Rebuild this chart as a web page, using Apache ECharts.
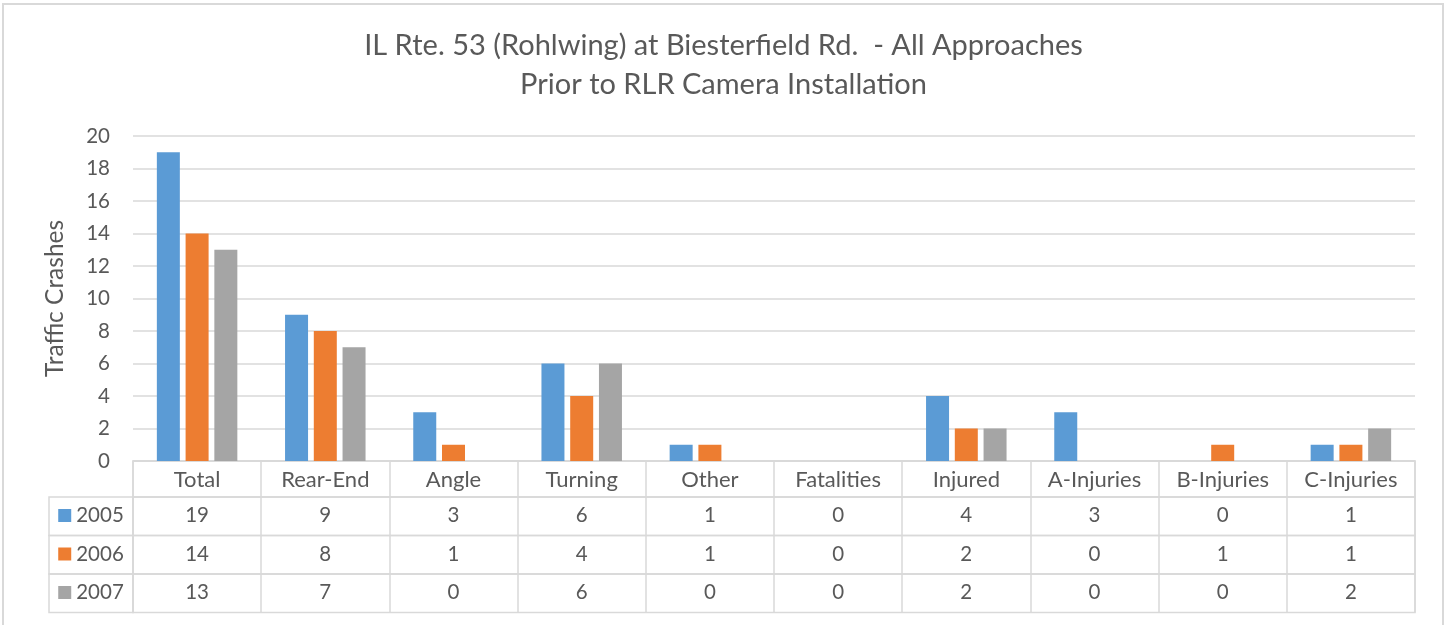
<!DOCTYPE html>
<html>
<head>
    <meta charset="utf-8">
    <title>ECharts</title>
    <style>
        html, body { margin: 0; padding: 0; background: #fff; }
    </style>
</head>
<body>
<div id="main" style="width:1447px;height:625px;"></div>
<script src="https://cdn.jsdelivr.net/npm/echarts@6/dist/echarts.min.js" type="text/javascript"></script>
<script type="text/javascript">

var categories = ['Total', 'Rear-End', 'Angle', 'Turning', 'Other', 'Fatalities', 'Injured', 'A-Injuries', 'B-Injuries', 'C-Injuries'];
var years = ['2005', '2006', '2007'];
var crashes2005 = [19, 9, 3, 6, 1, 0, 4, 3, 0, 1];
var crashes2006 = [14, 8, 1, 4, 1, 0, 2, 0, 1, 1];
var crashes2007 = [13, 7, 0, 6, 0, 0, 2, 0, 0, 2];
var yTicks = [0, 2, 4, 6, 8, 10, 12, 14, 16, 18, 20];

var rows = [crashes2005, crashes2006, crashes2007];
var colors = ['#5B9BD5', '#ED7D31', '#A5A5A5'];
var font = 'Lato, "Liberation Sans", sans-serif';
var textColor = '#595959';
var lineColor = '#d9d9d9';

var plotLeft = 133, plotWidth = 1282, plotTop = 136, plotHeight = 325;
var headTop = 461, headHeight = 36;
var rowTop = 497, rowHeight = 38.5;
var keyLeft = 49, keyWidth = 84;

var myChart = echarts.init(document.getElementById('main'));

var grids = [];
var xAxes = [];
var yAxes = [];
var series = [];

// main plot
grids.push({left: plotLeft, top: plotTop, width: plotWidth, height: plotHeight});
xAxes.push({
    type: 'category', gridIndex: 0, data: categories,
    axisLine: {lineStyle: {color: lineColor, width: 1.5}},
    axisTick: {show: false},
    axisLabel: {show: false}
});
yAxes.push({
    type: 'value', gridIndex: 0,
    min: yTicks[0], max: yTicks[yTicks.length - 1], interval: yTicks[1] - yTicks[0],
    name: 'Traffic Crashes', nameLocation: 'middle', nameGap: 65,
    nameTextStyle: {fontFamily: font, fontSize: 24.5, color: textColor},
    axisLine: {show: false}, axisTick: {show: false},
    axisLabel: {fontFamily: font, fontSize: 20.5, color: textColor, margin: 23},
    splitLine: {lineStyle: {color: lineColor, width: 1.5}}
});

// header row of the data table
grids.push({left: plotLeft, top: headTop, width: plotWidth, height: headHeight,
    show: true, borderColor: lineColor, borderWidth: 1.5});
xAxes.push({
    type: 'category', gridIndex: 1, data: categories, position: 'top',
    axisLine: {show: false}, axisTick: {show: false},
    axisLabel: {inside: true, margin: 8, fontFamily: font, fontSize: 22, color: textColor},
    splitLine: {show: true, lineStyle: {color: lineColor, width: 1.5}}
});
yAxes.push({type: 'value', gridIndex: 1, show: false});

// value rows and legend keys
rows.forEach(function (vals, r) {
    var top = rowTop + r * rowHeight;
    var gi = grids.length;
    grids.push({left: plotLeft, top: top, width: plotWidth, height: rowHeight,
        show: true, borderColor: lineColor, borderWidth: 1.5});
    xAxes.push({
        type: 'category', gridIndex: gi, data: categories, position: 'top',
        axisLine: {show: false}, axisTick: {show: false},
        axisLabel: {inside: true, margin: 8, fontFamily: font, fontSize: 20.5, color: textColor,
            formatter: function (v, i) { return String(vals[i]); }},
        splitLine: {show: true, lineStyle: {color: lineColor, width: 1.5}}
    });
    yAxes.push({type: 'value', gridIndex: gi, show: false});

    grids.push({left: keyLeft, top: top, width: keyWidth, height: rowHeight,
        show: true, borderColor: lineColor, borderWidth: 1.5});
    var rich = {
        sq: {width: 13, height: 13, backgroundColor: colors[r]},
        t: {fontFamily: font, fontSize: 20.5, color: textColor, padding: [0, 0, 0, 5]}
    };
    xAxes.push({
        type: 'category', gridIndex: gi + 1, data: [years[r]], position: 'top',
        axisLine: {show: false}, axisTick: {show: false},
        axisLabel: {inside: true, margin: 8, rich: rich,
            formatter: function (v) { return '{sq|}{t|' + v + '}'; }}
    });
    yAxes.push({type: 'value', gridIndex: gi + 1, show: false});
});

// bars
rows.forEach(function (vals, r) {
    series.push({
        name: years[r], type: 'bar', xAxisIndex: 0, yAxisIndex: 0,
        barWidth: 23, barGap: '25%',
        itemStyle: {color: colors[r]},
        data: vals
    });
});

var option = {
    animation: false,
    title: {
        text: 'IL Rte. 53 (Rohlwing) at Biesterfield Rd.  - All Approaches\nPrior to RLR Camera Installation',
        left: 'center', top: 21,
        textStyle: {fontFamily: font, fontSize: 29, fontWeight: 'normal', color: textColor, lineHeight: 39}
    },
    graphic: [{
        type: 'rect', silent: true,
        shape: {x: 3, y: 4, width: 1440, height: 640},
        style: {fill: 'none', stroke: lineColor, lineWidth: 2}
    }],
    grid: grids,
    xAxis: xAxes,
    yAxis: yAxes,
    series: series
};

myChart.setOption(option);
</script>
</body>
</html>
